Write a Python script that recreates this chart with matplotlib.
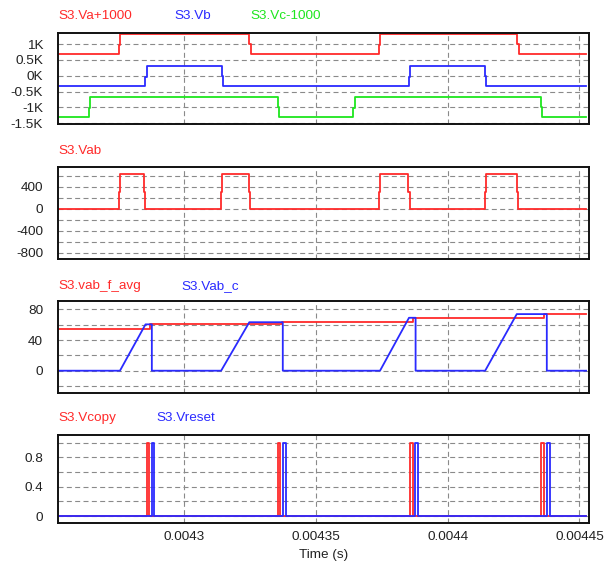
import numpy as np
from matplotlib import pyplot as plt

plt.rcParams['font.family'] = ['Liberation Sans', 'DejaVu Sans']
plt.rcParams['font.size'] = 9.7

RED = '#ff2a2a'
BLUE = '#2a2aff'
GREEN = '#1ee61e'

# time window (s)
t_start = 0.004252
t_end = 0.0044525

# phase voltages (steps-post), values in V
va_t = [t_start, 0.0042753, 0.0042758, 0.0043247, 0.0043252, 0.0043739, 0.0043744, 0.0044264, 0.0044269, t_end]
va_v = [-312, -30, 312, 0, -312, -30, 312, 0, -312, -312]

vb_t = [t_start, 0.0042852, 0.0042857, 0.0043142, 0.0043147, 0.0043853, 0.0043858, 0.0044142, 0.0044147, t_end]
vb_v = [-312, -30, 312, 0, -312, -30, 312, 0, -312, -312]

vc_t = [t_start, 0.0042639, 0.0042644, 0.0043355, 0.004336, 0.0043642, 0.0043647, 0.0044353, 0.0044358, t_end]
vc_v = [-312, -30, 312, 0, -312, -30, 312, 0, -312, -312]

# line voltage Vab
vab_t = [t_start, 0.0042753, 0.0042758, 0.0042847, 0.0042852,
         0.0043139, 0.0043144, 0.0043245, 0.004325,
         0.0043739, 0.0043744, 0.0043851, 0.0043856,
         0.0044142, 0.0044147, 0.0044262, 0.0044267, t_end]
vab_v = [0, 310, 624, 310, 0,
         310, 624, 310, 0,
         310, 624, 310, 0,
         310, 624, 310, 0, 0]

# averaged value (held) and integrator output
avg_t = [t_start, 0.0042869, 0.004337, 0.0043869, 0.0044367, t_end]
avg_v = [54.8, 60.5, 63.3, 69.1, 73.9, 73.9]

vabc_t = [t_start, 0.0042756, 0.0042853, 0.0042877, 0.0042877,
          0.004314, 0.0043247, 0.0043374, 0.0043374,
          0.0043743, 0.0043853, 0.0043878, 0.0043878,
          0.0044142, 0.0044262, 0.0044376, 0.0044376, t_end]
vabc_v = [0, 0, 60.5, 60.5, 0,
          0, 63.3, 63.3, 0,
          0, 69.1, 69.1, 0,
          0, 73.9, 73.9, 0, 0]

# copy / reset pulses (rise, fall)
vcopy_on = [0.0042857, 0.0043355, 0.0043858, 0.0044355]
vcopy_off = [0.0042867, 0.0043364, 0.0043869, 0.0044367]
vreset_on = [0.0042876, 0.0043376, 0.0043877, 0.0044376]
vreset_off = [0.0042886, 0.0043386, 0.0043888, 0.0044387]

x_ticks = [0.0043, 0.00435, 0.0044, 0.00445]
x_labels = ['0.0043', '0.00435', '0.0044', '0.00445']


def pulse_train(on, off):
    t = [t_start]
    v = [0]
    for a, b in zip(on, off):
        t += [a, b]
        v += [1, 0]
    t.append(t_end)
    v.append(0)
    return t, v


W, H = 615, 564
fig = plt.figure(figsize=(W / 100, H / 100), dpi=100)


def make_axes(top, bottom):
    left, right = 58.3, 588.7
    ax = fig.add_axes([left / W, 1 - bottom / H, (right - left) / W, (bottom - top) / H])
    ax.set_xlim(0.0042522, 0.0044535)
    ax.set_xticks(x_ticks)
    ax.set_xticklabels([])
    ax.grid(True, color='#8a8a8a', linestyle=(0, (4.5, 3)), linewidth=0.8)
    ax.set_axisbelow(True)
    ax.tick_params(length=0, colors='#222222', labelsize=9.7)
    ax.tick_params(axis='y', pad=11)
    for s in ax.spines.values():
        s.set_color('#111111')
        s.set_linewidth(1.4)
    return ax


def titles(y, items):
    for x, txt, c in items:
        fig.text(x / W, 1 - y / H, txt, color=c, ha='left', va='center', fontsize=9.7)


# panel 1
ax1 = make_axes(33, 124.3)
ax1.step(va_t, np.array(va_v) + 1000, where='post', color=RED, lw=1.3)
ax1.step(vb_t, vb_v, where='post', color=BLUE, lw=1.3)
ax1.step(vc_t, np.array(vc_v) - 1000, where='post', color=GREEN, lw=1.3)
ax1.set_ylim(-1540, 1355)
ax1.set_yticks([-1500, -1000, -500, 0, 500, 1000])
ax1.set_yticklabels(['-1.5K', '-1K', '-0.5K', '0K', '0.5K', '1K'])
titles(16, [(58, 'S3.Va+1000', RED), (174, 'S3.Vb', BLUE), (250.5, 'S3.Vc-1000', GREEN)])

# panel 2
ax2 = make_axes(166.7, 259)
ax2.step(vab_t, vab_v, where='post', color=RED, lw=1.3)
ax2.set_ylim(-915, 764)
ax2.set_yticks(range(-800, 700, 200))
ax2.set_yticklabels(['-800', '', '-400', '', '0', '', '400', ''])
titles(151, [(58, 'S3.Vab', RED)])

# panel 3
ax3 = make_axes(301, 393.3)
ax3.step(avg_t, avg_v, where='post', color=RED, lw=1.3)
ax3.plot(vabc_t, vabc_v, color=BLUE, lw=1.3)
ax3.set_ylim(-29.5, 91)
ax3.set_yticks(range(-20, 100, 20))
ax3.set_yticklabels(['', '0', '', '40', '', '80'])
titles(286, [(58, 'S3.vab_f_avg', RED), (181.5, 'S3.Vab_c', BLUE)])

# panel 4
ax4 = make_axes(434.7, 522.7)
ct, cv = pulse_train(vcopy_on, vcopy_off)
rt, rv = pulse_train(vreset_on, vreset_off)
ax4.step(ct, cv, where='post', color=RED, lw=1.3)
ax4.step(rt, rv, where='post', color=BLUE, lw=1.3)
ax4.set_ylim(-0.09, 1.11)
ax4.set_yticks([0, 0.2, 0.4, 0.6, 0.8, 1.0])
ax4.set_yticklabels(['0', '', '0.4', '', '0.8', ''])
ax4.set_xticklabels(x_labels)
ax4.tick_params(axis='x', pad=6)
titles(418, [(58, 'S3.Vcopy', RED), (156, 'S3.Vreset', BLUE)])

fig.text(323.5 / W, 1 - 555 / H, 'Time (s)', ha='center', va='center', color='#222222', fontsize=9.7)

plt.savefig('out.png', dpi=100)
